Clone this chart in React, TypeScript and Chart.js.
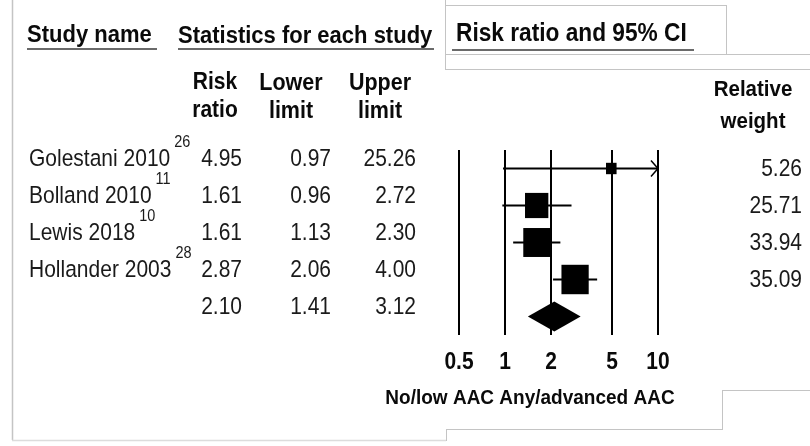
import React, { useEffect, useRef } from "react";
import { Chart, registerables } from "chart.js";

Chart.register(...registerables);

// ---- data ----
const studies = ["Golestani 2010", "Bolland 2010", "Lewis 2018", "Hollander 2003"];
const refNumbers = ["26", "11", "10", "28"];
const riskRatio = [4.95, 1.61, 1.61, 2.87];
const lowerLimit = [0.97, 0.96, 1.13, 2.06];
const upperLimit = [25.26, 2.72, 2.3, 4.0];
const relativeWeight = [5.26, 25.71, 33.94, 35.09];
const summaryRatio = 2.1;
const summaryLower = 1.41;
const summaryUpper = 3.12;
const xTicks = [0.5, 1, 2, 5, 10];
const xMin = 0.5;
const xMax = 10;

const FONT = '"Liberation Sans", Arial, sans-serif';
const SY = 1.1;

const forestPlugin = {
  id: "forest",
  afterDraw(chart: any) {
    const ctx: CanvasRenderingContext2D = chart.ctx;
    const xs = chart.scales.x;
    const ys = chart.scales.y;
    const ca = chart.chartArea;

    const font = (size: number, bold = false) => `${bold ? "bold " : ""}${size}px ${FONT}`;
    const text = (t: string, x: number, y: number, align: CanvasTextAlign, size: number, bold = false) => {
      ctx.save();
      ctx.font = font(size, bold);
      ctx.textAlign = align;
      ctx.textBaseline = "middle";
      ctx.translate(x, y);
      ctx.scale(1, SY);
      ctx.fillText(t, 0, 0);
      ctx.restore();
    };
    const line = (x1: number, y1: number, x2: number, y2: number, w: number, c: string) => {
      ctx.beginPath();
      ctx.moveTo(x1, y1);
      ctx.lineTo(x2, y2);
      ctx.lineWidth = w;
      ctx.strokeStyle = c;
      ctx.stroke();
    };

    ctx.save();

    // ---- frame lines (gray) ----
    const g = "#c4c4c4";
    line(12.5, 0, 12.5, 440, 1.5, g);
    line(12, 440.5, 446, 440.5, 1.5, "#dcdcdc");
    line(446.5, 429, 446.5, 441, 1, g);
    line(446, 429.5, 722, 429.5, 1, g);
    line(722.5, 390, 722.5, 430, 1, g);
    line(722, 390.5, 810, 390.5, 1, g);
    ctx.strokeStyle = g;
    ctx.lineWidth = 1;
    ctx.strokeRect(445.5, 5.5, 281, 49);
    ctx.strokeRect(445.5, 54.5, 370, 15);
    line(445.5, 0, 445.5, 5, 1, g);

    // ---- headers ----
    ctx.fillStyle = "#0a0a0a";
    text("Study name", 27, 35, "left", 22, true);
    line(27, 49, 157, 49, 2, "#6a6a6a");
    text("Statistics for each study", 178, 36, "left", 22, true);
    line(178, 49, 434, 49, 2, "#6a6a6a");
    text("Risk ratio and 95% CI", 456, 34, "left", 22.7, true);
    line(452, 50, 694, 50, 2, "#6a6a6a");

    text("Risk", 215, 83, "center", 21, true);
    text("ratio", 215, 111, "center", 21, true);
    text("Lower", 291, 83, "center", 21.5, true);
    text("limit", 291, 111, "center", 21.5, true);
    text("Upper", 380, 83, "center", 21.5, true);
    text("limit", 380, 111, "center", 21.5, true);
    text("Relative", 753, 90, "center", 20.5, true);
    text("weight", 753, 122, "center", 20.5, true);

    // ---- vertical reference lines ----
    xTicks.forEach((t) => {
      const px = Math.round(xs.getPixelForValue(t));
      line(px, ca.top, px, ca.bottom, 2, "#000");
      text(String(t), px, 363, "center", 21, true);
    });

    text("No/low AAC Any/advanced AAC", 530, 398, "center", 19, true);

    // ---- study rows ----
    studies.forEach((name, i) => {
      const yRow = ys.getPixelForValue(i);
      const yText = yRow - 9;
      ctx.fillStyle = "#1a1a1a";
      text(name, 29, yText, "left", 21);
      ctx.font = font(21);
      const w = ctx.measureText(name).width;
      text(refNumbers[i], 29 + w + 4, yText - 17, "left", 14.5);
      text(riskRatio[i].toFixed(2), 242, yText, "right", 21);
      text(lowerLimit[i].toFixed(2), 331, yText, "right", 21);
      text(upperLimit[i].toFixed(2), 416, yText, "right", 21);
      text(relativeWeight[i].toFixed(2), 802, yRow + 1, "right", 21);

      // CI line
      const lo = xs.getPixelForValue(Math.max(lowerLimit[i], xMin));
      const hi = xs.getPixelForValue(Math.min(upperLimit[i], xMax));
      line(lo, yRow, hi, yRow, 2, "#000");
      if (upperLimit[i] > xMax) {
        ctx.beginPath();
        ctx.moveTo(hi - 7, yRow - 8);
        ctx.lineTo(hi, yRow);
        ctx.lineTo(hi - 7, yRow + 8);
        ctx.lineWidth = 1.5;
        ctx.strokeStyle = "#000";
        ctx.stroke();
      }
      // box
      const cx = xs.getPixelForValue(riskRatio[i]);
      const s = Math.sqrt(relativeWeight[i]) * 4.6;
      const h = s * 1.08;
      ctx.fillStyle = "#000";
      ctx.fillRect(cx - s / 2, yRow - h / 2, s, h);
    });

    // ---- summary row ----
    const ySum = ys.getPixelForValue(studies.length);
    ctx.fillStyle = "#1a1a1a";
    text(summaryRatio.toFixed(2), 242, ySum - 9, "right", 21);
    text(summaryLower.toFixed(2), 331, ySum - 9, "right", 21);
    text(summaryUpper.toFixed(2), 416, ySum - 9, "right", 21);
    const dl = xs.getPixelForValue(summaryLower);
    const dc = xs.getPixelForValue(summaryRatio);
    const dr = xs.getPixelForValue(summaryUpper);
    ctx.beginPath();
    ctx.moveTo(dl, ySum);
    ctx.lineTo(dc, ySum - 15);
    ctx.lineTo(dr, ySum);
    ctx.lineTo(dc, ySum + 15);
    ctx.closePath();
    ctx.fillStyle = "#000";
    ctx.fill();

    ctx.restore();
  },
};

export default function App() {
  const canvasRef = useRef<HTMLCanvasElement | null>(null);

  useEffect(() => {
    if (!canvasRef.current) return;
    const chart = new Chart(canvasRef.current, {
      type: "scatter",
      data: {
        datasets: [
          {
            data: riskRatio.map((v, i) => ({ x: v, y: i })),
            pointRadius: 0,
          },
        ],
      },
      options: {
        responsive: true,
        maintainAspectRatio: false,
        animation: false,
        events: [],
        layout: { padding: { left: 459, right: 152, top: 150, bottom: 111 } },
        scales: {
          x: { type: "logarithmic", min: xMin, max: xMax, display: false },
          y: { type: "linear", min: -0.5, max: 4.5, reverse: true, display: false },
        },
        plugins: { legend: { display: false }, tooltip: { enabled: false } },
      },
      plugins: [forestPlugin],
    });
    return () => chart.destroy();
  }, []);

  return (
    <div style={{ position: "absolute", left: 0, top: 0, width: 810, height: 446, background: "#fff" }}>
      <canvas ref={canvasRef} />
    </div>
  );
}
